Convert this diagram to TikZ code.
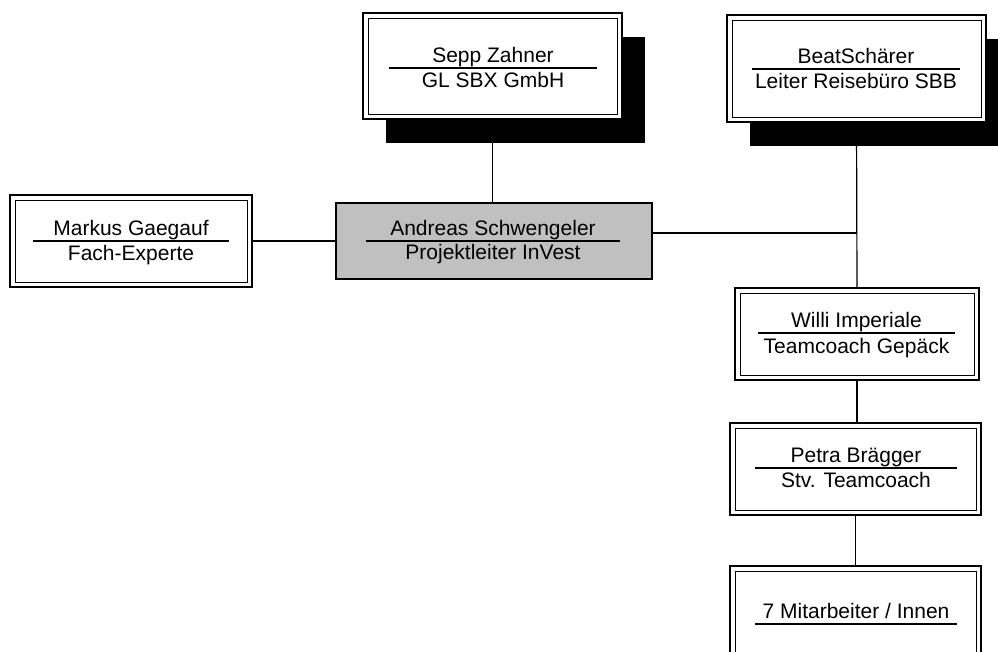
\documentclass[tikz,border=0pt]{standalone}
\usepackage{fontspec}
\setmainfont{Liberation Sans}
\usetikzlibrary{calc,shadows}
\begin{document}
\begin{tikzpicture}[x=1pt,y=-1pt,
  orgbox/.style={rectangle, draw=black, line width=1.6pt, fill=white, inner sep=0pt, outer sep=0pt},
  shadowed/.style={drop shadow={shadow xshift=23pt, shadow yshift=-24pt, fill=black, opacity=1}},
  inbox/.style={draw=black, line width=1pt},
  lbl/.style={font=\fontsize{21}{25}\selectfont, inner sep=0pt, anchor=base},
  rl/.style={line width=1.2pt},
  conn/.style={line width=1.2pt}]
\clip (0,0) rectangle (998,651);
\fill[white] (0,0) rectangle (998,651);

% boxes
\node[orgbox, shadowed, minimum width=259pt, minimum height=106pt] (sepp) at (492.5,66) {};
\node[orgbox, shadowed, minimum width=259pt, minimum height=107pt] (beat) at (856.5,68.5) {};
\node[orgbox, minimum width=242pt, minimum height=92pt] (markus) at (131,241) {};
\node[orgbox, fill={rgb,255:red,192;green,192;blue,192}, line width=1.4pt, minimum width=316pt, minimum height=76pt] (andreas) at (494,241) {};
\node[orgbox, minimum width=244pt, minimum height=92pt] (willi) at (857,334) {};
\node[orgbox, minimum width=251pt, minimum height=92pt] (petra) at (855.5,469) {};
\node[orgbox, minimum width=251pt, minimum height=92pt] (mitarb) at (855.5,612) {};

% inner borders
\foreach \b in {sepp,beat,markus,willi,petra,mitarb}
  \draw[inbox] ([shift={(5,5)}]\b.north west) rectangle ([shift={(-5,-5)}]\b.south east);

% rules and texts
\coordinate (seppR) at (493,68);
\draw[rl] ([xshift=-104pt]seppR) -- ([xshift=104pt]seppR);
\node[lbl] (seppA) at ([yshift=6pt]seppR) {Sepp Zahner};
\node[lbl] (seppB) at ([yshift=-19pt]seppR) {GL SBX GmbH};

\coordinate (beatR) at (856,69);
\draw[rl] ([xshift=-104pt]beatR) -- ([xshift=104pt]beatR);
\node[lbl] (beatA) at ([yshift=6pt]beatR) {BeatSchärer};
\node[lbl] (beatB) at ([yshift=-19pt]beatR) {Leiter Reisebüro SBB};

\coordinate (markusR) at (131,241);
\draw[rl] ([xshift=-98pt]markusR) -- ([xshift=98pt]markusR);
\node[lbl] (markusA) at ([yshift=6pt]markusR) {Markus Gaegauf};
\node[lbl] (markusB) at ([yshift=-19pt]markusR) {Fach-Experte};

\coordinate (andreasR) at (493,241);
\draw[rl] ([xshift=-127pt]andreasR) -- ([xshift=127pt]andreasR);
\node[lbl] (andreasA) at ([yshift=6pt]andreasR) {Andreas Schwengeler};
\node[lbl] (andreasB) at ([yshift=-18pt]andreasR) {Projektleiter InVest};

\coordinate (williR) at (856.5,333);
\draw[rl] ([xshift=-98.5pt]williR) -- ([xshift=98.5pt]williR);
\node[lbl] (williA) at ([yshift=6pt]williR) {Willi Imperiale};
\node[lbl] (williB) at ([yshift=-20pt]williR) {Teamcoach Gepäck};

\coordinate (petraR) at (856,468);
\draw[rl] ([xshift=-101pt]petraR) -- ([xshift=101pt]petraR);
\node[lbl] (petraA) at ([yshift=6pt]petraR) {Petra Brägger};
\node[lbl] (petraB) at ([yshift=-19pt]petraR) {Stv. Teamcoach};

\coordinate (mitarbR) at (856,624);
\draw[rl] ([xshift=-101pt]mitarbR) -- ([xshift=101pt]mitarbR);
\node[lbl] (mitarbA) at ([yshift=6pt]mitarbR) {7 Mitarbeiter / Innen};

% connectors
\draw[conn] (sepp.south) -- (sepp.south |- andreas.north);
\draw[conn] (markus.east) -- (andreas.west);
\coordinate (junc) at (857,233);
\draw[conn] (beat.south) -- (willi.north);
\draw[conn] (andreas.east |- junc) -- (junc);
\draw[conn] (willi.south) -- (willi.south |- petra.north);
\draw[conn] (petra.south) -- (mitarb.north);
\end{tikzpicture}
\end{document}
